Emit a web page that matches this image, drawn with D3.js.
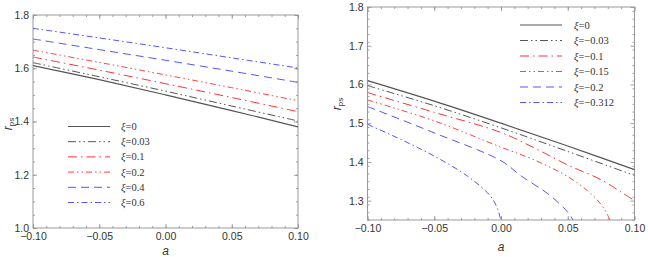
<!DOCTYPE html>
<html>
<head>
  <meta charset="utf-8">
  <script src="https://d3js.org/d3.v7.min.js"></script>
  <style>
    body { margin: 0; background: #fff; }
    .tick text { font-family: "Liberation Sans", Arial, sans-serif; font-size: 10.5px; fill: #333; }
    .axis path { display: none; }
    .axis line { stroke: #888; stroke-width: 0.8; }
    .frame { fill: none; stroke: #999; stroke-width: 1; }
    .leg { font-family: "Liberation Serif", "Times New Roman", serif; font-size: 10.5px; fill: #333; }
    .lab { font-family: "Liberation Sans", Arial, sans-serif; font-size: 12px; font-style: italic; fill: #333; }
  </style>
</head>
<body>
  <svg width="648" height="257"></svg>
  <script>
    // left panel: xi >= 0
    var aLeft = [-0.10, -0.05, 0.00, 0.05, 0.10];
    var xiLeft = ["0", "0.03", "0.1", "0.2", "0.4", "0.6"];
    var rLeft = [
      [1.610, 1.557, 1.500, 1.441, 1.380],
      [1.621, 1.568, 1.514, 1.458, 1.402],
      [1.642, 1.593, 1.542, 1.490, 1.437],
      [1.668, 1.622, 1.575, 1.527, 1.478],
      [1.710, 1.670, 1.630, 1.589, 1.547],
      [1.750, 1.714, 1.677, 1.639, 1.601]
    ];

    // right panel: xi <= 0, curves end where the photon sphere disappears
    var xiRight = ["0", "\u22120.03", "\u22120.1", "\u22120.15", "\u22120.2", "\u22120.312"];
    var aRight = [
      [-0.10, -0.05, 0.00, 0.05, 0.10],
      [-0.10, -0.05, 0.00, 0.05, 0.10],
      [-0.10, -0.05, 0.00, 0.025, 0.05, 0.075, 0.09, 0.10],
      [-0.10, -0.05, 0.00, 0.025, 0.05, 0.065, 0.075, 0.080, 0.083],
      [-0.10, -0.05, 0.00, 0.015, 0.035, 0.045, 0.050, 0.054, 0.056],
      [-0.10, -0.075, -0.05, -0.025, -0.008, -0.0026, 0.0005]
    ];
    var rRight = [
      [1.610, 1.557, 1.500, 1.441, 1.380],
      [1.597, 1.545, 1.488, 1.427, 1.365],
      [1.579, 1.528, 1.476, 1.436, 1.392, 1.354, 1.322, 1.300],
      [1.560, 1.506, 1.438, 1.405, 1.362, 1.325, 1.290, 1.262, 1.235],
      [1.543, 1.475, 1.403, 1.364, 1.318, 1.288, 1.270, 1.250, 1.235],
      [1.497, 1.458, 1.415, 1.363, 1.312, 1.279, 1.240]
    ];

    var xTicks = [-0.10, -0.05, 0.00, 0.05, 0.10];
    var yTicksLeft = [1.0, 1.2, 1.4, 1.6, 1.8];
    var yTicksRight = [1.3, 1.4, 1.5, 1.6, 1.7, 1.8];

    var styles = [
      {color: "#555", dash: null, w: 1.2},
      {color: "#555", dash: "8,3,1.5,3,1.5,3", w: 1},
      {color: "#f33", dash: "9,4,1.5,4", w: 1},
      {color: "#f44", dash: "6,3,1.5,3,1.5,3", w: 1},
      {color: "#55f", dash: "8,5", w: 1},
      {color: "#55f", dash: "6,3,1.5,3", w: 1}
    ];

    var svg = d3.select("svg");

    function panel(id, box, yDom, yTicks, yMinor, xiLabels, aData, rData, legend, lab) {
      var x = d3.scaleLinear().domain([-0.1, 0.1]).range([0, box.w]);
      var y = d3.scaleLinear().domain(yDom).range([box.h, 0]);
      var g = svg.append("g").attr("transform", "translate(" + box.x + "," + box.y + ")");

      g.append("clipPath").attr("id", id).append("rect")
        .attr("width", box.w).attr("height", box.h);

      var xMinor = d3.range(-0.1, 0.1001, 0.01);
      var yMin = d3.range(yDom[0], yDom[1] + 1e-6, yMinor);

      g.append("g").attr("class", "axis").attr("transform", "translate(0," + box.h + ")")
        .call(d3.axisBottom(x).tickValues(xMinor).tickSize(-2).tickFormat(""));
      g.append("g").attr("class", "axis").attr("transform", "translate(0," + box.h + ")")
        .call(d3.axisBottom(x).tickValues(xTicks).tickSize(-4).tickPadding(5).tickFormat(d3.format(".2f")));
      g.append("g").attr("class", "axis")
        .call(d3.axisTop(x).tickValues(xMinor).tickSize(-2).tickFormat(""));
      g.append("g").attr("class", "axis")
        .call(d3.axisTop(x).tickValues(xTicks).tickSize(-4).tickFormat(""));

      g.append("g").attr("class", "axis")
        .call(d3.axisLeft(y).tickValues(yMin).tickSize(-2).tickFormat(""));
      g.append("g").attr("class", "axis")
        .call(d3.axisLeft(y).tickValues(yTicks).tickSize(-4).tickPadding(4).tickFormat(d3.format(".1f")));
      g.append("g").attr("class", "axis").attr("transform", "translate(" + box.w + ",0)")
        .call(d3.axisRight(y).tickValues(yMin).tickSize(-2).tickFormat(""));
      g.append("g").attr("class", "axis").attr("transform", "translate(" + box.w + ",0)")
        .call(d3.axisRight(y).tickValues(yTicks).tickSize(-4).tickFormat(""));

      g.append("rect").attr("class", "frame").attr("width", box.w).attr("height", box.h);

      var line = d3.line()
        .x(function(d) { return x(d[0]); })
        .y(function(d) { return y(d[1]); })
        .curve(d3.curveCatmullRom);

      var series = rData.map(function(r, i) {
        var a = Array.isArray(aData[0]) ? aData[i] : aData;
        return a.map(function(v, j) { return [v, r[j]]; });
      });

      g.append("g").attr("clip-path", "url(#" + id + ")")
        .selectAll("path").data(series).enter().append("path")
        .attr("d", line)
        .attr("fill", "none")
        .attr("stroke", function(d, i) { return styles[i].color; })
        .attr("stroke-width", function(d, i) { return styles[i].w; })
        .attr("stroke-dasharray", function(d, i) { return styles[i].dash; });

      // legend (page coordinates)
      var lg = svg.append("g");
      xiLabels.forEach(function(lbl, i) {
        var yy = legend.y + i * legend.dy;
        lg.append("line")
          .attr("x1", legend.x).attr("x2", legend.x + 42)
          .attr("y1", yy).attr("y2", yy)
          .attr("stroke", styles[i].color)
          .attr("stroke-width", styles[i].w)
          .attr("stroke-dasharray", styles[i].dash);
        var t = lg.append("text").attr("class", "leg")
          .attr("x", legend.tx).attr("y", yy + 3.5);
        t.append("tspan").attr("font-style", "italic").text("\u03be");
        t.append("tspan").text("=" + lbl);
      });

      // axis labels
      svg.append("text").attr("class", "lab")
        .attr("x", box.x + box.w / 2).attr("y", lab.ax)
        .attr("text-anchor", "middle").text("a");
      var yl = svg.append("text").attr("class", "lab")
        .attr("transform", "translate(" + lab.rx + "," + lab.ry + ") rotate(-90)")
        .attr("text-anchor", "middle");
      yl.append("tspan").text("r");
      yl.append("tspan").attr("font-size", "8px").attr("font-style", "normal").attr("dy", 2).text("ps");
    }

    panel("clipL", {x: 33, y: 15, w: 265, h: 213}, [1.0, 1.8], yTicksLeft, 0.05,
      xiLeft, aLeft, rLeft, {x: 68, y: 126.5, dy: 15.2, tx: 121},
      {ax: 255, rx: 12, ry: 124});
    panel("clipR", {x: 367.5, y: 7, w: 267, h: 213}, [1.25, 1.8], yTicksRight, 0.02,
      xiRight, aRight, rRight, {x: 520, y: 25, dy: 15.5, tx: 574},
      {ax: 251, rx: 341, ry: 104});
  </script>
</body>
</html>
